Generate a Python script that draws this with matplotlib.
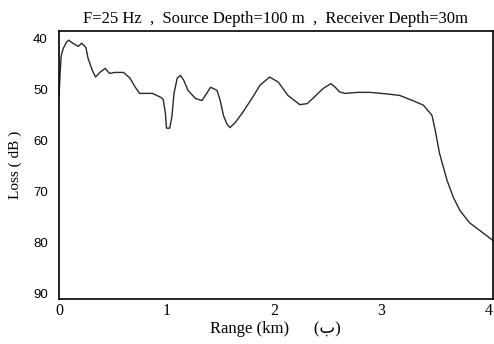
import matplotlib
matplotlib.use('Agg')
import matplotlib.pyplot as plt

# range (km) and transmission loss (dB)
range_km = [0.0, 0.01, 0.02, 0.04, 0.07, 0.09, 0.13, 0.18, 0.21, 0.25, 0.27, 0.31,
            0.34, 0.38, 0.43, 0.47, 0.52, 0.6, 0.66, 0.71, 0.75, 0.87, 0.91, 0.95,
            0.97, 0.99, 1.0, 1.03, 1.05, 1.07, 1.10, 1.13, 1.16, 1.20, 1.27, 1.33,
            1.38, 1.41, 1.47, 1.50, 1.53, 1.56, 1.59, 1.64, 1.71, 1.80, 1.87, 1.96,
            2.04, 2.13, 2.24, 2.31, 2.41, 2.46, 2.53, 2.57, 2.61, 2.66, 2.78, 2.89,
            3.05, 3.17, 3.29, 3.39, 3.47, 3.50, 3.54, 3.61, 3.67, 3.73, 3.82, 3.94,
            4.04]
loss_db = [51.5, 47.0, 43.5, 42.0, 40.8, 40.4, 41.0, 41.6, 41.0, 41.8, 43.9, 46.3,
           47.6, 46.7, 45.9, 46.9, 46.7, 46.7, 47.8, 49.6, 50.8, 50.8, 51.2, 51.6,
           52.0, 54.7, 57.6, 57.6, 55.4, 50.8, 47.8, 47.3, 48.2, 50.2, 51.8, 52.2,
           50.6, 49.6, 50.2, 52.2, 55.1, 56.7, 57.5, 56.5, 54.5, 51.6, 49.2, 47.6,
           48.6, 51.2, 53.0, 52.8, 50.8, 49.8, 48.9, 49.6, 50.5, 50.8, 50.6, 50.6,
           50.9, 51.2, 52.2, 53.1, 55.1, 58.0, 62.5, 67.8, 71.2, 73.7, 76.1, 78.0,
           79.6]

x_ticks = [0, 1, 2, 3, 4]
y_ticks = [40, 50, 60, 70, 80, 90]

serif = ['Liberation Serif', 'DejaVu Sans']

fig = plt.figure(figsize=(4.94, 3.44), dpi=100)
ax = fig.add_axes([0.1194, 0.1308, 0.8780, 0.7791])

ax.plot(range_km, loss_db, color='#2a2a2a', linewidth=1.0)

ax.set_xlim(0, 4.035)
ax.set_ylim(91.0, 38.6)
ax.set_xticks(x_ticks)
ax.set_yticks(y_ticks)
ax.set_xticklabels([str(v) for v in x_ticks], family=serif, fontsize=11.5)
ax.set_yticklabels([str(v) for v in y_ticks], family='Liberation Sans', fontsize=9.5)
ax.tick_params(axis='y', length=0, pad=8)
ax.tick_params(axis='x', length=0, pad=3)

for s in ax.spines.values():
    s.set_linewidth(1.2)

ax.set_title('F=25 Hz  ,  Source Depth=100 m  ,  Receiver Depth=30m',
             family=serif, fontsize=12, pad=6)
ax.set_xlabel('Range (km)      (ب)', family=serif, fontsize=12, labelpad=1)
ax.set_ylabel('Loss ( dB )', family=serif, fontsize=11, labelpad=8)

fig.savefig('out.png', dpi=100)
